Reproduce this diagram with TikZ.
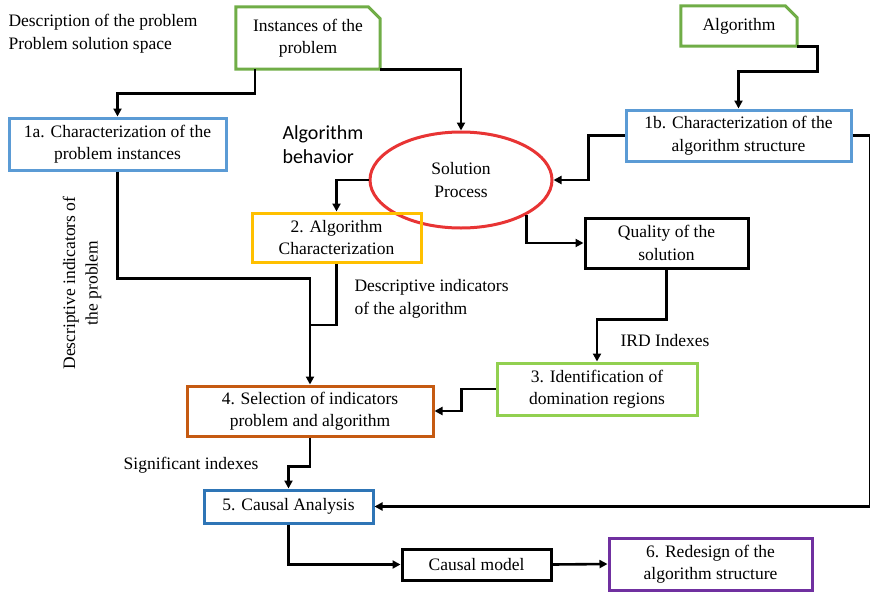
\documentclass[tikz,border=0pt]{standalone}
\usepackage{fontspec}
\setmainfont{Liberation Serif}
\newfontfamily\sansfont{Carlito}
\usetikzlibrary{shapes.geometric,arrows.meta}
\definecolor{docgreen}{RGB}{112,173,71}
\definecolor{stepblue}{RGB}{91,155,213}
\definecolor{darkblue}{RGB}{46,117,182}
\definecolor{procred}{RGB}{232,52,52}
\definecolor{goldline}{RGB}{255,192,0}
\definecolor{rustline}{RGB}{197,90,17}
\definecolor{limeline}{RGB}{146,208,80}
\definecolor{violetline}{RGB}{112,48,160}

\begin{document}
\begin{tikzpicture}[x=1pt,y=-1pt,
    every node/.style={align=center, font=\fontsize{17.5}{22.5}\selectfont},
    box/.style={draw, line width=3pt, inner sep=0pt},
    docline/.style={draw=docgreen, line width=3pt, line join=miter},
    link/.style={line width=2.6pt, -{Triangle[length=8pt,width=8pt]}},
    plain/.style={line width=2.6pt},
    note/.style={anchor=north west, align=left}
  ]
  \useasboundingbox (0,0) rectangle (870,592);

  % inputs
  \node (inst) at (308,38) [minimum width=144pt, minimum height=62pt] {Instances of the\\problem};
  \draw[docline] (inst.south west) -- (inst.north west) -- ([xshift=-12pt]inst.north east)
    -- ([yshift=-12pt]inst.north east) -- (inst.south east) -- cycle;
  \node (algo) at (739,26) [minimum width=116pt, minimum height=40pt] {Algorithm};
  \draw[docline] (algo.south west) -- (algo.north west) -- ([xshift=-12pt]algo.north east)
    -- ([yshift=-12pt]algo.north east) -- (algo.south east) -- cycle;

  % steps
  \node[box, draw=stepblue, minimum width=217pt, minimum height=52pt] (ch1a) at (117.5,144) {1a. Characterization of the\\problem instances};
  \node[box, draw=stepblue, minimum width=225pt, minimum height=51pt] (ch1b) at (738.5,135.5) {1b. Characterization of the\\algorithm structure};
  \node[ellipse, draw=procred, line width=3pt, minimum width=182pt, minimum height=96pt] (solve) at (461,180) {Solution\\Process};
  \node[box, draw=goldline, minimum width=169pt, minimum height=49pt] (ch2) at (336.5,237.5) {2. Algorithm\\Characterization};
  \node[box, minimum width=163pt, minimum height=50pt] (quality) at (666.5,243) {Quality of the\\solution};
  \node[box, draw=limeline, minimum width=200pt, minimum height=52pt] (ch3) at (597,389) {3. Identification of\\domination regions};
  \node[box, draw=rustline, minimum width=246pt, minimum height=50pt] (ch4) at (310,411) {4. Selection of indicators\\problem and algorithm};
  \node[box, draw=darkblue, minimum width=169pt, minimum height=33pt] (ch5) at (288.5,506.5) {5. Causal Analysis};
  \node[box, minimum width=149pt, minimum height=31pt] (model) at (476.5,564.5) {Causal model};
  \node[box, draw=violetline, minimum width=203pt, minimum height=52pt] (ch6) at (710.5,564) {6. Redesign of the\\algorithm structure};

  % labels
  \node[note] (desc) at (5,11) {Description of the problem\\Problem solution space};
  \node[note, font=\sansfont\fontsize{20}{24}\selectfont] (behav) at (279,122) {Algorithm\\behavior};
  \node[note] (descalg) at (351,276) {Descriptive indicators\\of the algorithm};
  \node[rotate=90] (descprob) at (82,283) {Descriptive indicators of\\the problem};
  \node (ird) at (665,341) {IRD Indexes};
  \node (signif) at (191,465) {Significant indexes};

  \coordinate (rim) at (870,0);
  \coordinate (merge) at (310,325);

  % connectors
  \draw[link] ([xshift=-53pt]inst.south) -- ++(0,24) -| (ch1a.north);
  \draw[link] (inst.south east) -| (solve.north);
  \draw[link] (algo.south east) -- ++(20,0) -- ++(0,25) -| (ch1b.north);
  \draw[link] (ch1b.west) -- ++(-36,0) |- (solve.east);
  \draw[link] (ch1b.east) -- (ch1b.east -| rim) |- (ch5.east);
  \draw[link] (solve.west) -| (ch2.north);
  \draw[link] (solve.south east) |- (quality.west);
  \draw[link] (quality.south) -- ++(0,50) -| (ch3.north);
  \draw[link] (ch3.west) -- ++(-34,0) |- (ch4.east);
  \draw[link] (ch1a.south) -- ++(0,107) -| (ch4.north);
  \draw[plain] (ch2.south) |- (merge);
  \draw[link] (ch4.south) -- ++(0,29) -| (ch5.north);
  \draw[link] (ch5.south) |- (model.west);
  \draw[link] (model.east) -- (ch6.west);
\end{tikzpicture}
\end{document}
